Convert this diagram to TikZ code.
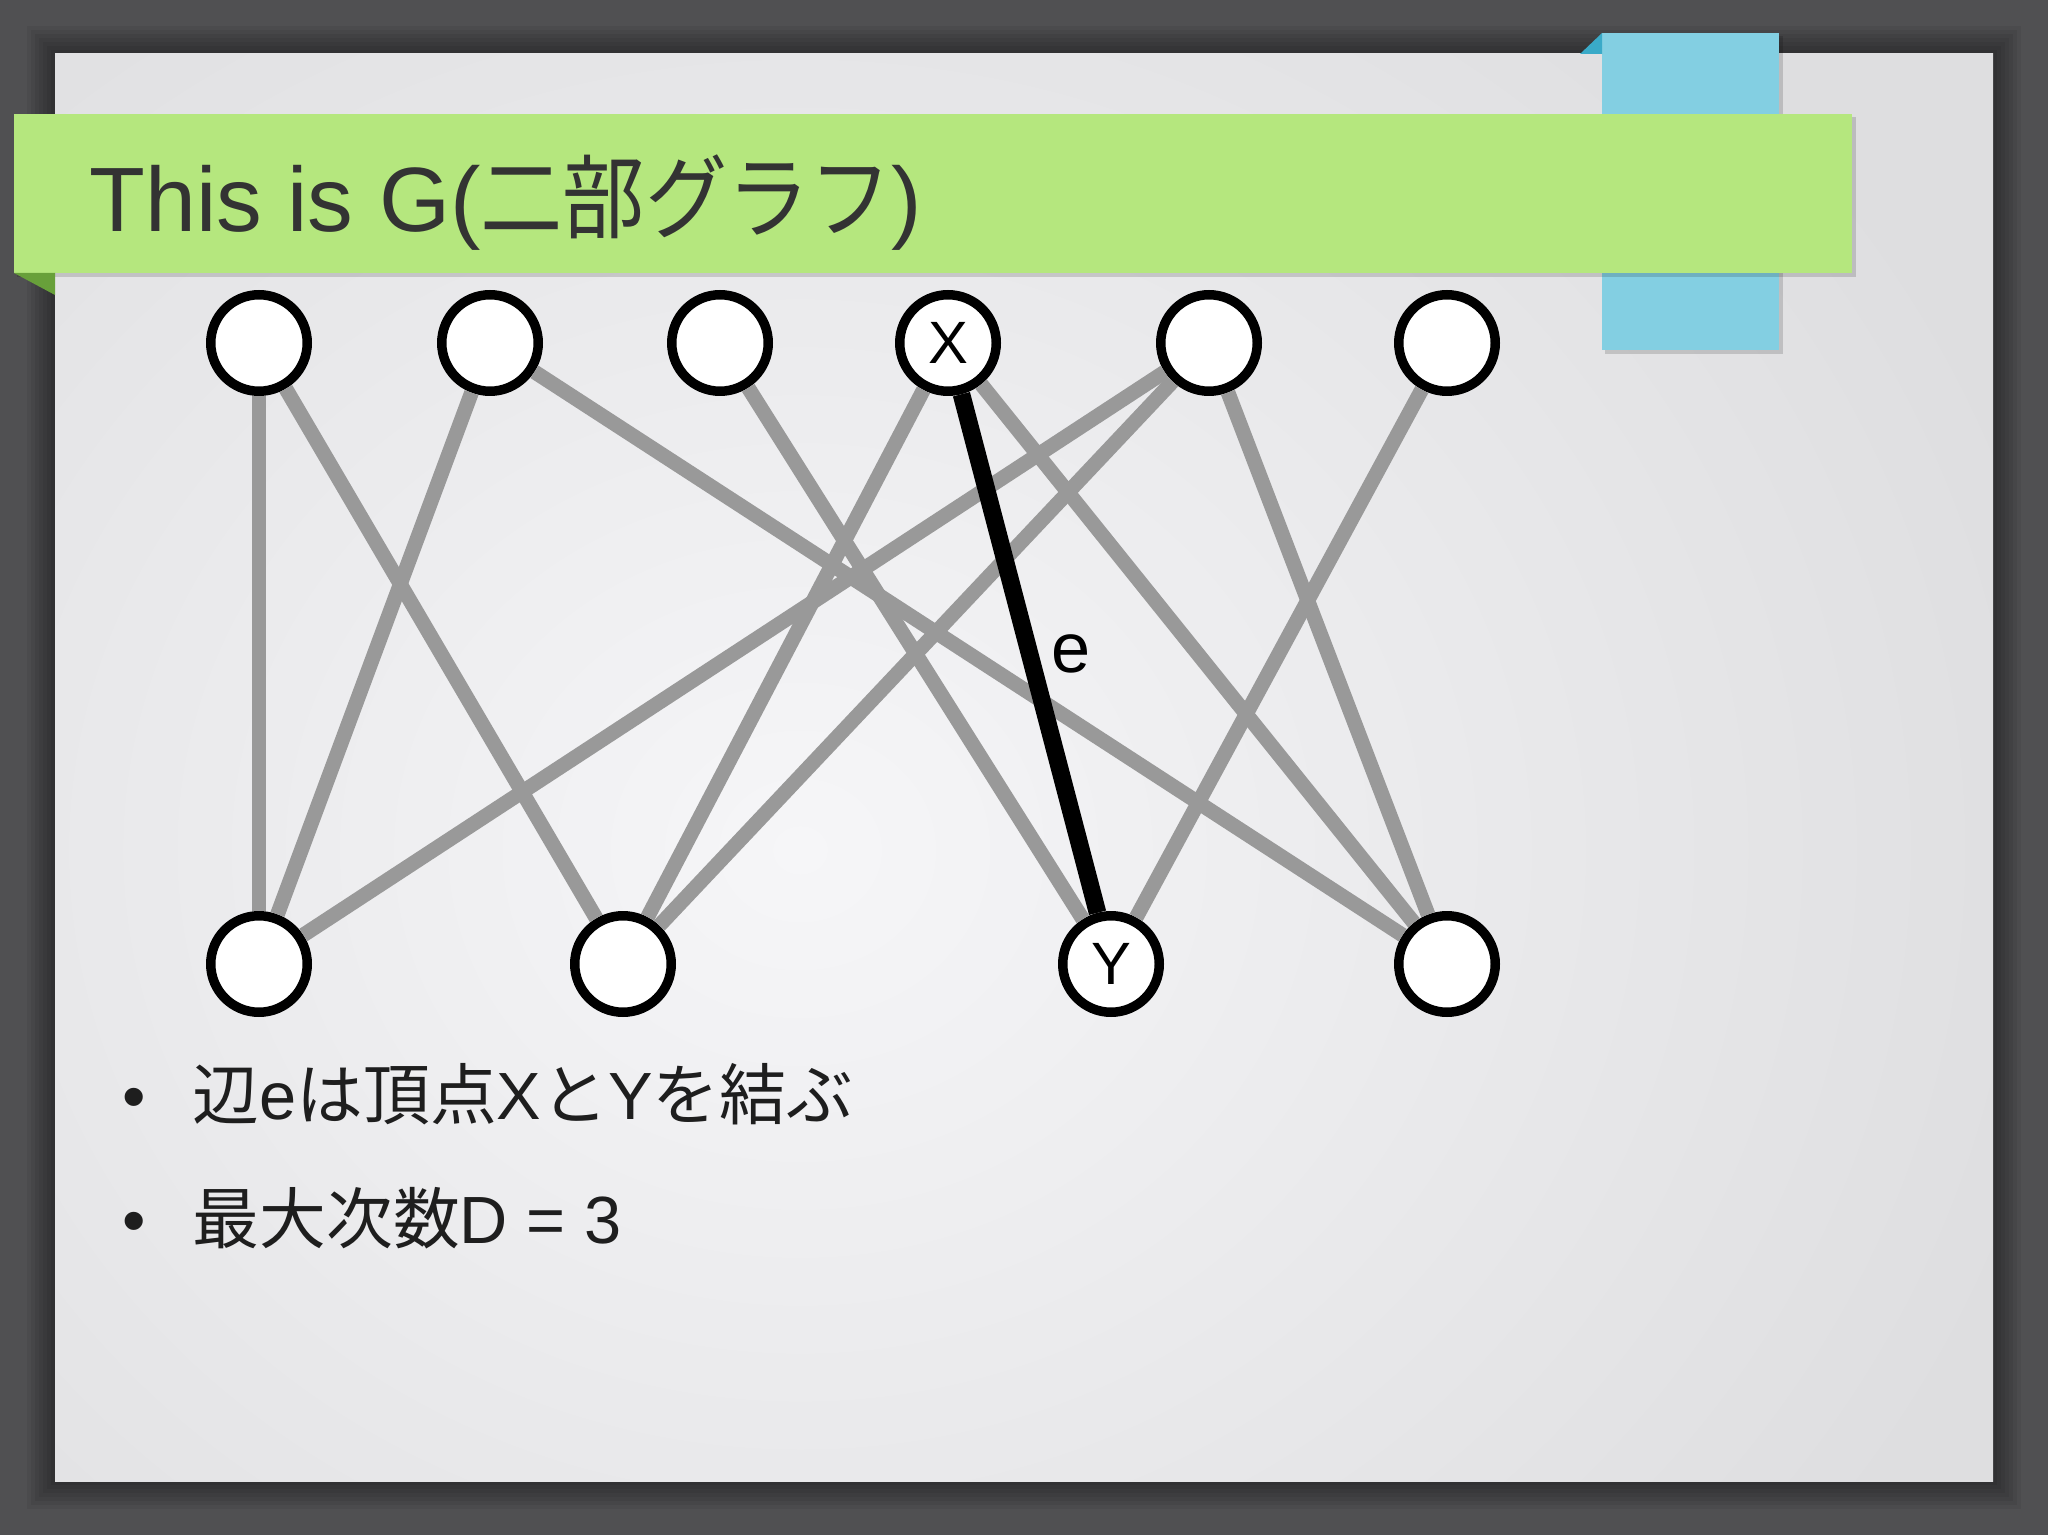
\documentclass[tikz,border=0pt]{standalone}
\usepackage{graphicx}
\usepackage{fontspec}
\setmainfont{Liberation Sans}
\newfontfamily\cjk{Noto Sans CJK JP}
\newcommand{\narrowjp}[1]{\scalebox{0.9}[1]{\cjk #1}}

\definecolor{deskgray}{RGB}{80,80,82}
\definecolor{slidelight}{RGB}{246,246,248}
\definecolor{slidedark}{RGB}{222,222,224}
\definecolor{bannergreen}{RGB}{181,231,126}
\definecolor{folddarkgreen}{RGB}{104,160,58}
\definecolor{tabblue}{RGB}{131,207,226}
\definecolor{folddarkblue}{RGB}{58,170,200}
\definecolor{titlegray}{RGB}{51,51,51}
\definecolor{textblack}{RGB}{30,30,30}
\definecolor{edgegray}{RGB}{153,153,153}

\begin{document}
\begin{tikzpicture}[x=0.1mm, y=-0.1mm,
    main/.style = {draw, circle, fill=white, line width=2.7pt, minimum size=0.965cm, inner sep=0pt, font=\fontsize{17pt}{17pt}\selectfont},
    link/.style = {draw=edgegray, line width=4.2pt},
    bullet/.style = {anchor=base west, inner sep=0pt, text=textblack, font=\fontsize{19pt}{19pt}\selectfont}]
    \useasboundingbox (0,0) rectangle (2048,1535);
    % slide and desk
    \fill[deskgray] (0,0) rectangle (2048,1535);
    \foreach \s in {4,8,...,28}
        \fill[black, opacity=0.06] (55-\s,54-\s) rectangle (1993+\s,1481+\s);
    \begin{scope}
        \clip (55,54) rectangle (1993,1481);
        \shade[inner color=slidelight, outer color=slidedark] (-500,-300) rectangle (2100,2000);
    \end{scope}
    % blue tab
    \fill[black, opacity=0.15] (1605,36) rectangle (1783,354);
    \fill[tabblue] (1602,33) rectangle (1779,350);
    \fill[folddarkblue] (1580,54) -- (1602,33) -- (1602,54) -- cycle;
    % green banner
    \fill[black, opacity=0.15] (17,117) rectangle (1856,277);
    \fill[bannergreen] (14,114) rectangle (1852,273);
    \fill[folddarkgreen] (14,273) -- (55,273) -- (55,295) -- cycle;
    \node[anchor=base west, inner sep=0pt, text=titlegray, font=\fontsize{26pt}{26pt}\selectfont] (title) at (89,232) {This is G(\narrowjp{二部グラフ})};

    % the graph
    \node[main] (1) at (259,343) {};
    \node[main] (2) at (490,343) {};
    \node[main] (3) at (720,343) {};
    \node[main] (4) at (948,343) {X};
    \node[main] (5) at (1209,343) {};
    \node[main] (6) at (1447,343) {};
    \node[main] (7) at (259,964) {};
    \node[main] (8) at (623,964) {};
    \node[main] (9) at (1111,964) {Y};
    \node[main] (10) at (1447,964) {};
    \draw[link] (1) -- (7);
    \draw[link] (1) -- (8);
    \draw[link] (2) -- (7);
    \draw[link] (2) -- (10);
    \draw[link] (3) -- (9);
    \draw[link] (4) -- (8);
    \draw[link] (4) -- (10);
    \draw[link] (5) -- (7);
    \draw[link] (5) -- (8);
    \draw[link] (5) -- (10);
    \draw[link] (6) -- (9);
    \draw[line width=5pt] (4) -- (9) node[pos=0.5, right=0.01cm, font=\fontsize{20pt}{20pt}\selectfont] (e) {e};

    % bullets
    \node[bullet] (b1) at (122,1119) {•};
    \node[bullet] (t1) at (192,1119) {{\cjk 辺}e{\cjk は頂点}X{\cjk と}Y{\cjk を結ぶ}};
    \node[bullet] (b2) at (122,1243) {•};
    \node[bullet] (t2) at (192,1243) {{\cjk 最大次数}D = 3};
\end{tikzpicture}
\end{document}
